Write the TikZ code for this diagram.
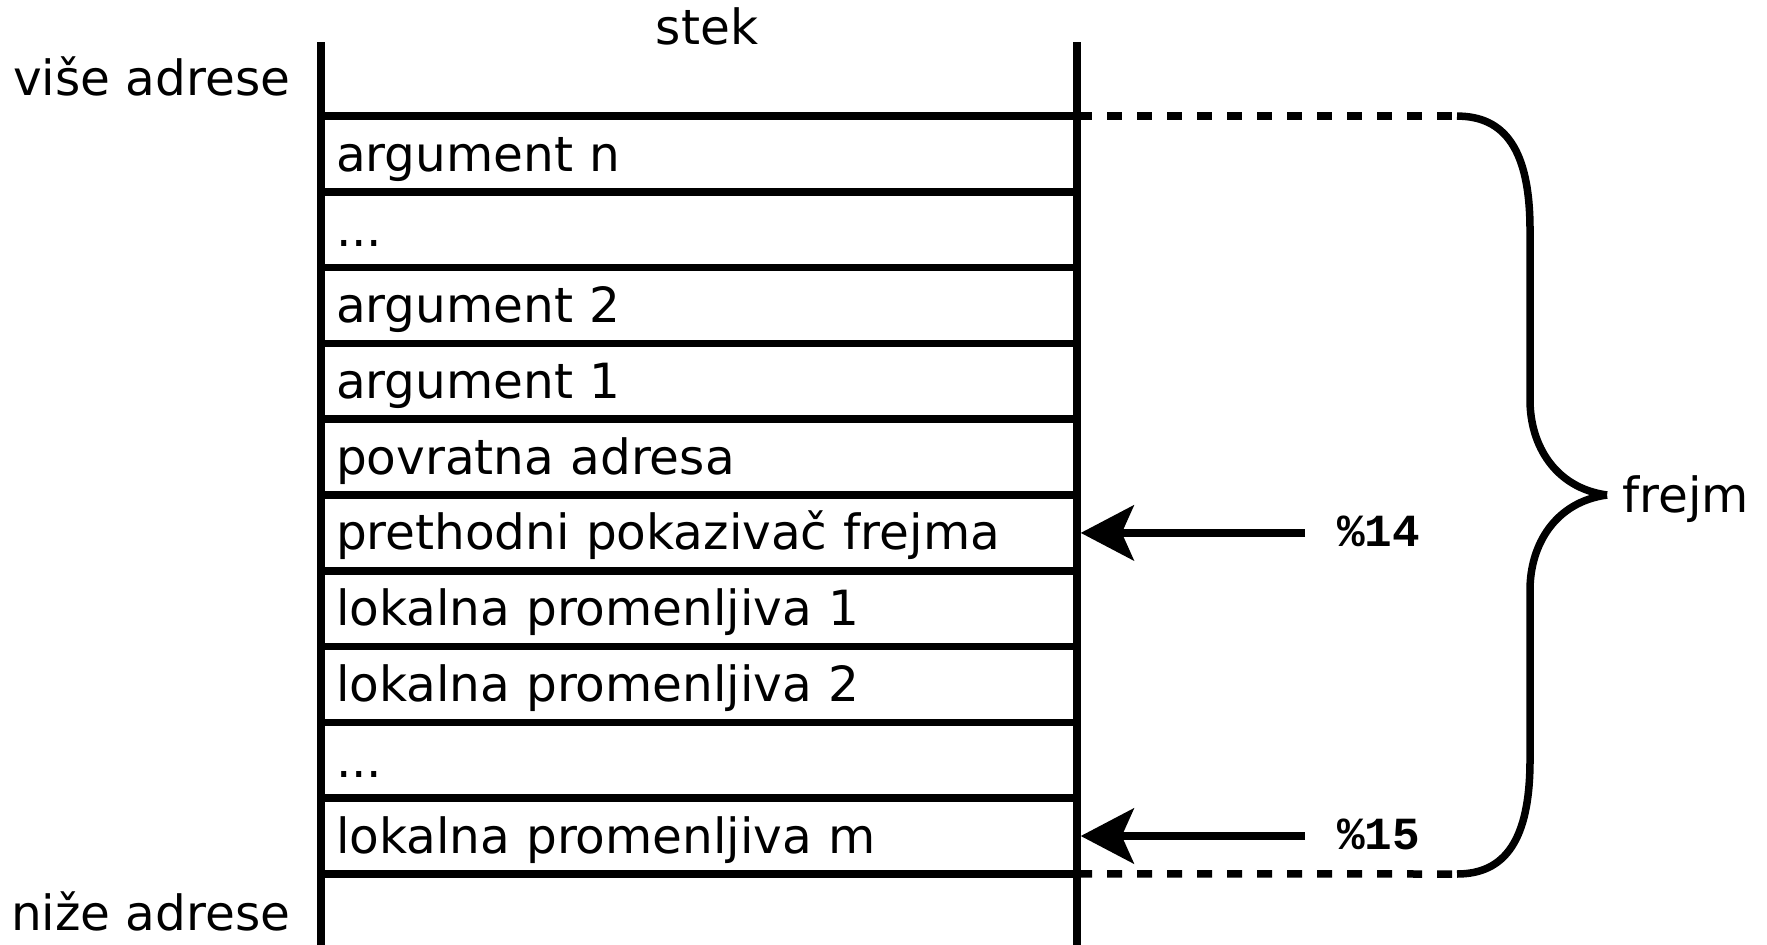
\documentclass[tikz,border=0pt]{standalone}
\usepackage{fontspec}
\setmainfont{DejaVu Sans}
\newfontfamily\codefont{Liberation Mono}
\usetikzlibrary{arrows.meta}

\tikzset{
  frame/.style={line width=7.5pt, line cap=butt},
  cell/.style={draw, line width=7.5pt, outer sep=0pt, inner xsep=15pt, inner ysep=0pt,
    text width=726pt, align=left, minimum height=75.8pt,
    text height=40pt, text depth=6pt,
    font=\fontsize{48.5}{58}\selectfont},
  lbl/.style={inner sep=0pt, font=\fontsize{48.5}{58}\selectfont},
  reg/.style={inner ysep=0pt, inner xsep=0pt, text height=27pt, text depth=0pt,
    font=\codefont\bfseries\fontsize{46}{50}\selectfont},
  ptr/.style={line width=7.5pt, -{Stealth[length=53pt, width=55pt, inset=12pt]}},
  guide/.style={line width=7.5pt, dash pattern=on 15pt off 15pt},
  brace/.style={line width=7.5pt, line cap=butt}
}

\begin{document}
\begin{tikzpicture}[x=1pt, y=-1pt]
  \useasboundingbox (0,0) rectangle (1767,945);

  % stack cells, top to bottom
  \node[cell] (c1)  at (699,154.0) {argument n};
  \node[cell] (c2)  at (699,229.7) {...};
  \node[cell] (c3)  at (699,305.5) {argument 2};
  \node[cell] (c4)  at (699,381.3) {argument 1};
  \node[cell] (c5)  at (699,457.1) {povratna adresa};
  \node[cell] (c6)  at (699,532.9) {prethodni pokazivač frejma};
  \node[cell] (c7)  at (699,608.7) {lokalna promenljiva 1};
  \node[cell] (c8)  at (699,684.4) {lokalna promenljiva 2};
  \node[cell] (c9)  at (699,760.2) {...};
  \node[cell] (c10) at (699,836.0) {lokalna promenljiva m};

  % side walls of the stack
  \coordinate (lt) at (321,42);
  \coordinate (lb) at (321,945);
  \coordinate (rt) at (1077,42);
  \coordinate (rb) at (1077,945);
  \draw[frame] (lt) -- (lb);
  \draw[frame] (rt) -- (rb);

  % labels
  \node[lbl, anchor=base] (stek) at (707,44) {stek};
  \node[lbl, anchor=base east] (hi) at (290.5,95.5) {više adrese};
  \node[lbl, anchor=base east] (lo) at (290.5,930) {niže adrese};
  \node[lbl, anchor=base west] (fr) at (1622,512) {frejm};

  % frame extent: dashed guides and curly brace
  \coordinate (bt) at (1457,116.1);
  \coordinate (bb) at (1457,874);
  \coordinate (tip) at (1607,495);
  \draw[guide] (c1.north east) -- (bt);
  \draw[guide] (c10.south east) -- (bb);
  \draw[brace] (bt) .. controls (1505,116.1) and (1530,150) .. (1530,230)
    -- (1530,400) .. controls (1530,445) and (1555,488) .. (tip);
  \draw[brace] (bb) .. controls (1505,874) and (1530,840) .. (1530,760)
    -- (1530,590) .. controls (1530,545) and (1555,502) .. (tip);

  % register pointers
  \node[reg, anchor=west] (r14) at (1337,532.9) {\%14};
  \node[reg, anchor=west] (r15) at (1337,836.0) {\%15};
  \draw[ptr] ([xshift=-32pt]r14.west) -- ([xshift=3.75pt]c6.east);
  \draw[ptr] ([xshift=-32pt]r15.west) -- ([xshift=3.75pt]c10.east);
\end{tikzpicture}
\end{document}
